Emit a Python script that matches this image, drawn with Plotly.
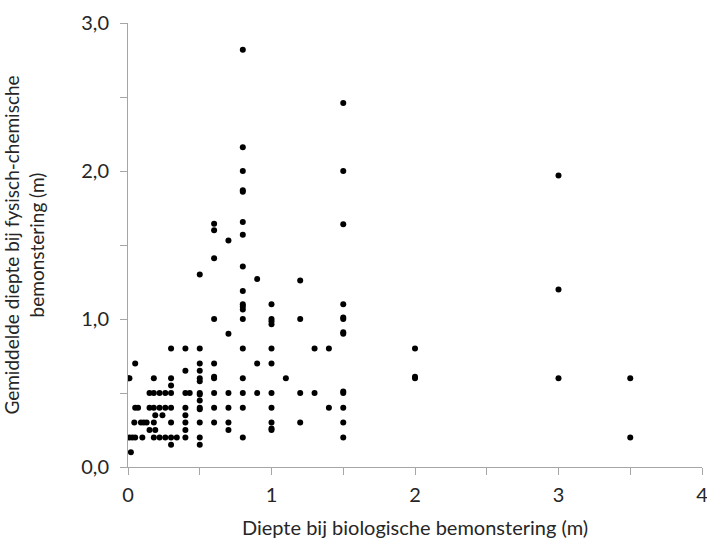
import plotly.graph_objects as go

# Diepte bij biologische bemonstering (m)
x_bio = [
    0.8, 0.8, 0.8, 0.8, 0.8, 0.8, 0.8, 0.8, 0.8, 0.8, 0.8, 0.8, 0.8, 0.8, 0.8, 0.8, 0.8, 0.8,
    1.5, 1.5, 1.5, 1.5, 1.5, 1.5, 1.5, 1.5, 1.5, 1.5, 1.5, 1.5, 1.5,
    1.2, 1.2, 1.2, 1.2,
    1.3, 1.3, 1.4, 1.4, 1.1,
    1.0, 1.0, 1.0, 1.0, 1.0, 1.0, 1.0, 1.0, 1.0, 1.0, 1.0,
    0.9, 0.9, 0.9,
    0.7, 0.7, 0.7, 0.7, 0.7, 0.7,
    0.6, 0.6, 0.6, 0.6, 0.6, 0.6, 0.6, 0.6, 0.6, 0.6,
    0.5, 0.5, 0.5, 0.5, 0.5, 0.5, 0.5, 0.5, 0.5, 0.5, 0.5, 0.5, 0.5, 0.5,
    0.43,
    0.4, 0.4, 0.4, 0.4, 0.4, 0.4, 0.4, 0.4,
    0.34,
    0.3, 0.3, 0.3, 0.3, 0.3, 0.3, 0.3, 0.3,
    0.26, 0.26, 0.26, 0.24,
    0.22, 0.22, 0.22,
    0.19, 0.19,
    0.18, 0.18, 0.18, 0.18, 0.18,
    0.15, 0.15, 0.15,
    0.13, 0.11, 0.09, 0.1,
    0.07, 0.05, 0.05, 0.05, 0.044,
    0.03, 0.01, 0.01, 0.0, 0.02,
    2.0, 2.0, 2.0,
    3.0, 3.0, 3.0,
    3.5, 3.5,
]

# Gemiddelde diepte bij fysisch-chemische bemonstering (m)
y_fc = [
    2.82, 2.16, 2.0, 1.86, 1.87, 1.655, 1.57, 1.355, 1.19, 1.10, 1.085, 1.065, 1.0, 0.8, 0.6, 0.5, 0.4, 0.2,
    2.46, 2.0, 1.64, 1.1, 1.0, 1.01, 0.9, 0.91, 0.5, 0.51, 0.4, 0.3, 0.2,
    1.26, 1.0, 0.5, 0.3,
    0.8, 0.5, 0.8, 0.4, 0.6,
    1.1, 1.0, 0.985, 0.965, 0.8, 0.7, 0.5, 0.4, 0.3, 0.25, 0.26,
    1.27, 0.7, 0.5,
    1.53, 0.9, 0.5, 0.4, 0.3, 0.25,
    1.644, 1.6, 1.41, 1.0, 0.7, 0.6, 0.61, 0.5, 0.4, 0.3,
    1.3, 0.8, 0.7, 0.65, 0.6, 0.58, 0.5, 0.49, 0.45, 0.4, 0.39, 0.3, 0.2, 0.15,
    0.5,
    0.8, 0.65, 0.5, 0.4, 0.35, 0.3, 0.25, 0.2,
    0.2,
    0.8, 0.6, 0.55, 0.5, 0.4, 0.3, 0.2, 0.15,
    0.5, 0.4, 0.2, 0.35,
    0.5, 0.4, 0.2,
    0.35, 0.25,
    0.6, 0.5, 0.4, 0.3, 0.2,
    0.5, 0.4, 0.25,
    0.3, 0.3, 0.3, 0.2,
    0.4, 0.7, 0.4, 0.2, 0.3,
    0.2, 0.6, 0.2, 0.6, 0.1,
    0.8, 0.6, 0.61,
    1.97, 1.2, 0.6,
    0.6, 0.2,
]

x_ticks = [0, 1, 2, 3, 4]
x_ticklabels = ["0", "1", "2", "3", "4"]
y_ticks = [0, 1, 2, 3]
y_ticklabels = ["0,0", "1,0", "2,0", "3,0"]

font_family = "Lato, Open Sans, Noto Sans, DejaVu Sans, sans-serif"
axis_color = "#a6a6a6"
text_color = "#262626"

fig = go.Figure(
    go.Scatter(
        x=x_bio,
        y=y_fc,
        mode="markers",
        marker=dict(color="black", size=6, line=dict(width=0)),
        hoverinfo="x+y",
    )
)

fig.update_layout(
    width=707,
    height=540,
    margin=dict(l=128, r=5, t=23, b=73),
    paper_bgcolor="white",
    plot_bgcolor="white",
    showlegend=False,
    font=dict(family=font_family, color=text_color, size=20),
)

fig.update_xaxes(
    range=[0, 4],
    automargin=False,
    ticklabeloverflow="allow",
    tickmode="array",
    tickvals=x_ticks,
    ticktext=x_ticklabels,
    ticks="outside",
    ticklen=7,
    tickcolor=axis_color,
    ticklabelstandoff=3,
    minor=dict(dtick=0.5, ticks="outside", ticklen=7, tickcolor=axis_color),
    showline=True,
    linecolor=axis_color,
    linewidth=1,
    showgrid=False,
    zeroline=False,
    tickfont=dict(size=20),
    title=dict(text="Diepte bij biologische bemonstering (m)", font=dict(size=20), standoff=15),
)

fig.update_yaxes(
    range=[0, 3],
    automargin=False,
    ticklabeloverflow="allow",
    tickmode="array",
    tickvals=y_ticks,
    ticktext=y_ticklabels,
    ticks="outside",
    ticklen=7,
    tickcolor=axis_color,
    ticklabelstandoff=7,
    minor=dict(dtick=0.5, ticks="outside", ticklen=7, tickcolor=axis_color),
    showline=True,
    linecolor=axis_color,
    linewidth=1,
    showgrid=False,
    zeroline=False,
    tickfont=dict(size=20),
    title=dict(text="Gemiddelde diepte bij fysisch-chemische<br>bemonstering (m)", font=dict(size=19), standoff=33),
)

fig.write_html(
    "out.html",
    config={"displayModeBar": False},
    post_script="document.body.style.margin='0';document.body.style.padding='0';",
)
